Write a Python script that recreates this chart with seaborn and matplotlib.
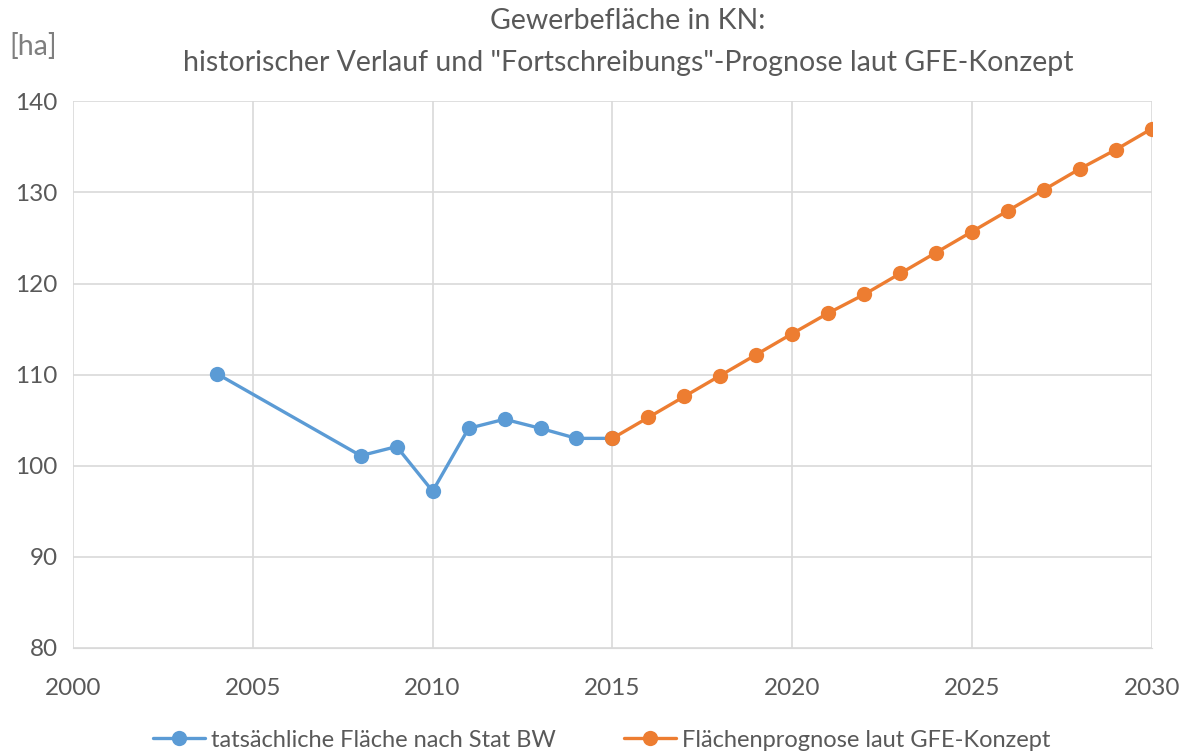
import matplotlib
matplotlib.use("Agg")
import matplotlib.pyplot as plt
import seaborn as sns
import pandas as pd

# tatsaechliche Flaeche (Stat BW)
hist_years = [2004, 2008, 2009, 2010, 2011, 2012, 2013, 2014, 2015]
hist_values = [110.1, 101.1, 102.1, 97.2, 104.1, 105.1, 104.1, 103.0, 103.0]

# Prognose laut GFE-Konzept
prog_years = [2015, 2016, 2017, 2018, 2019, 2020, 2021, 2022, 2023,
              2024, 2025, 2026, 2027, 2028, 2029, 2030]
prog_values = [103.0, 105.3, 107.6, 109.9, 112.2, 114.5, 116.75, 118.8, 121.1,
               123.4, 125.7, 128.0, 130.3, 132.6, 134.7, 137.0]

x_ticks = [2000, 2005, 2010, 2015, 2020, 2025, 2030]
y_ticks = [80, 90, 100, 110, 120, 130, 140]

label_hist = "tatsächliche Fläche nach Stat BW"
label_prog = "Flächenprognose laut GFE-Konzept"

sns.set_style("whitegrid")
plt.rcParams['font.family'] = ['Lato', 'DejaVu Sans']
grey = "#595959"

df_hist = pd.DataFrame({"Jahr": hist_years, "ha": hist_values})
df_prog = pd.DataFrame({"Jahr": prog_years, "ha": prog_values})

fig = plt.figure(figsize=(11.92, 7.56), dpi=100)
ax = fig.add_axes([0.0612, 0.143, 0.9052, 0.723])

sns.lineplot(data=df_hist, x="Jahr", y="ha", ax=ax, color="#5b9bd5", marker="o",
             markersize=11, markeredgewidth=0, linewidth=2.4, label=label_hist, zorder=3)
sns.lineplot(data=df_prog, x="Jahr", y="ha", ax=ax, color="#ed7d31", marker="o",
             markersize=11, markeredgewidth=0, linewidth=2.4, label=label_prog, zorder=4)

ax.set_xlim(2000, 2030)
ax.set_ylim(80, 140)
ax.set_xticks(x_ticks)
ax.set_yticks(y_ticks)
ax.grid(True, color="#d9d9d9", linewidth=1.2)
for s in ax.spines.values():
    s.set_visible(False)
ax.spines['bottom'].set_visible(True)
ax.spines['bottom'].set_color("#d9d9d9")
ax.set_xlabel("")
ax.set_ylabel("")
ax.tick_params(axis="both", colors=grey, labelsize=17.5, length=0)
ax.tick_params(axis="x", pad=22)
ax.tick_params(axis="y", pad=11)

fig.text(0.527, 0.972, "Gewerbefläche in KN:", ha="center", va="center", fontsize=20.5, color=grey)
fig.text(0.527, 0.917, "historischer Verlauf und \"Fortschreibungs\"-Prognose laut GFE-Konzept",
         ha="center", va="center", fontsize=20.5, color=grey)
fig.text(0.0075, 0.938, "[ha]", ha="left", va="center", fontsize=20.5, color="#7f7f7f")

ax.get_legend().remove()
h, l = ax.get_legend_handles_labels()
fig.legend(h, l, loc="center", bbox_to_anchor=(0.505, 0.021), ncol=2, frameon=False,
           fontsize=17, labelcolor=grey, handlelength=2.2, columnspacing=2.9, handletextpad=0.25)

fig.savefig("out.png", dpi=100)
